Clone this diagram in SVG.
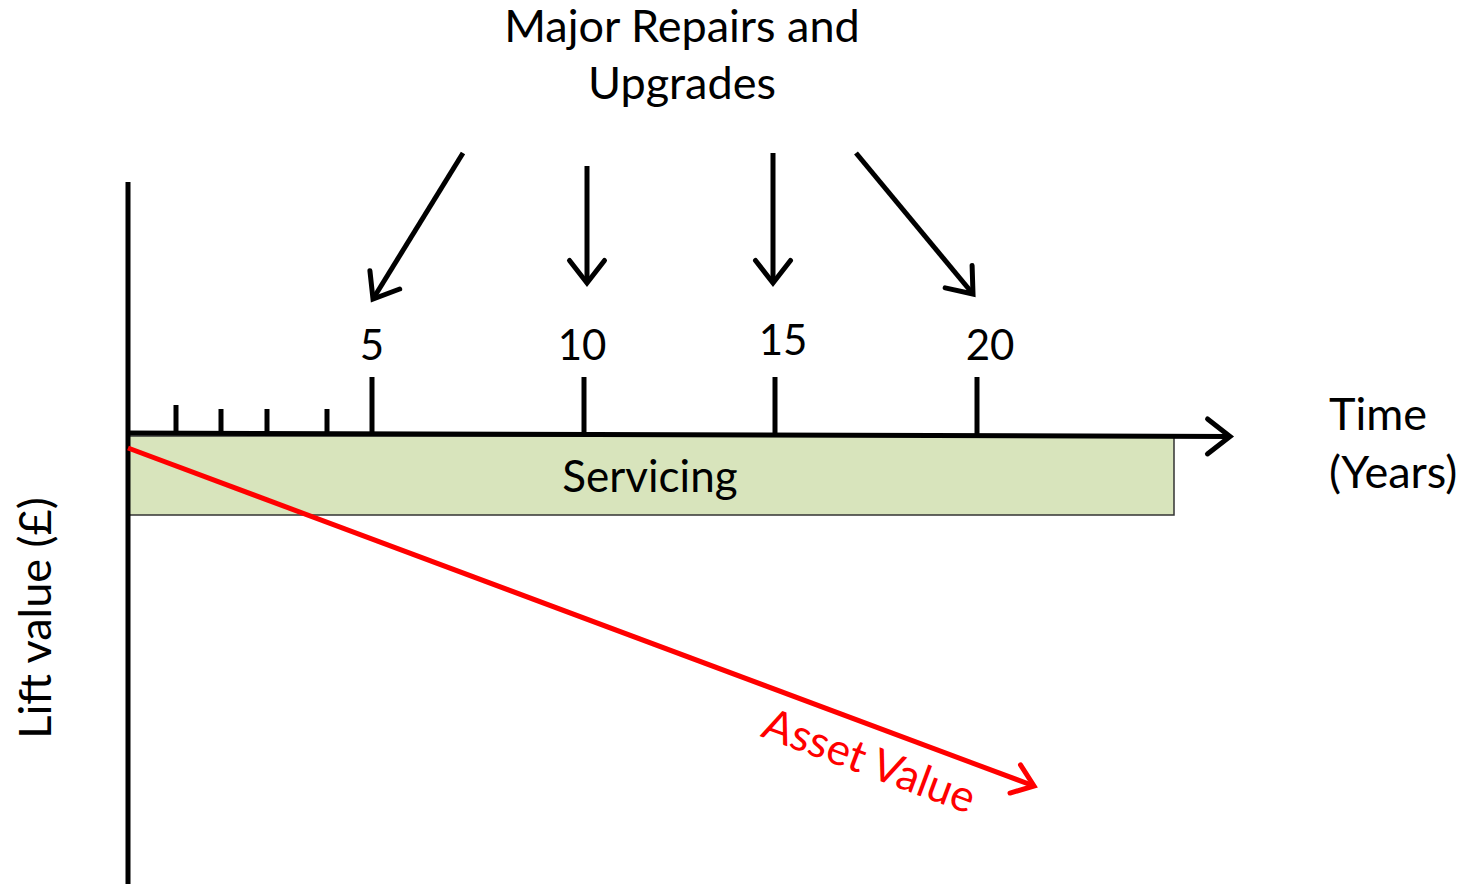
<svg xmlns="http://www.w3.org/2000/svg" width="1464" height="884" viewBox="0 0 1464 884">
  <style>
    text { font-family: "Lato", "Liberation Sans", sans-serif; font-size: 45px; fill: #000; }
    .num { font-size: 42px; }
    .axis { stroke: #000; stroke-width: 5; fill: none; }
    .tick { stroke: #000; stroke-width: 5; }
    .arrow { stroke: #000; stroke-width: 5; fill: none; marker-end: url(#head); }
    .red { stroke: #ff0000; stroke-width: 5; fill: none; marker-end: url(#headRed); }
  </style>
  <defs>
    <marker id="head" markerWidth="9" markerHeight="9" refX="5.5" refY="4.5" orient="auto" markerUnits="strokeWidth">
      <path d="M1,1 L5.5,4.5 L1,8" fill="none" stroke="#000" stroke-width="1" stroke-linecap="round"/>
    </marker>
    <marker id="headRed" markerWidth="8" markerHeight="8" refX="5" refY="4" orient="auto" markerUnits="strokeWidth">
      <path d="M1,1 L5,4 L1,7" fill="none" stroke="#ff0000" stroke-width="1" stroke-linecap="round"/>
    </marker>
  </defs>

  <!-- servicing band -->
  <g id="servicing">
    <rect x="127" y="436" width="1047" height="79" fill="#d8e4bc" stroke="#333" stroke-width="1.5"/>
    <text x="650" y="492" text-anchor="middle" style="font-size:44px">Servicing</text>
  </g>

  <!-- axes -->
  <g id="axes">
    <line class="axis" x1="128" y1="182" x2="128" y2="884"/>
    <line class="arrow" x1="126" y1="433" x2="1230" y2="436.5"/>
    <line class="tick" x1="176" y1="405" x2="176" y2="433"/>
    <line class="tick" x1="221" y1="409" x2="221" y2="433"/>
    <line class="tick" x1="267" y1="409" x2="267" y2="433"/>
    <line class="tick" x1="327" y1="409" x2="327" y2="433"/>
    <line class="tick" x1="372" y1="377" x2="372" y2="433"/>
    <line class="tick" x1="584" y1="377" x2="584" y2="434"/>
    <line class="tick" x1="775" y1="377" x2="775" y2="435"/>
    <line class="tick" x1="977" y1="377" x2="977" y2="436"/>
  </g>

  <g id="tick-labels">
    <text class="num" x="372" y="360" text-anchor="middle">5</text>
    <text class="num" x="582" y="360" text-anchor="middle">10</text>
    <text class="num" x="783" y="355" text-anchor="middle">15</text>
    <text class="num" x="990" y="360" text-anchor="middle">20</text>
  </g>

  <g id="title">
    <text x="682" y="42" text-anchor="middle">Major Repairs and</text>
    <text x="682" y="99" text-anchor="middle">Upgrades</text>
  </g>

  <g id="time-label">
    <text x="1329" y="430">Time</text>
    <text x="1329" y="488">(Years)</text>
  </g>

  <g id="value-label">
    <text transform="translate(51,618) rotate(-90)" text-anchor="middle">Lift value (£)</text>
  </g>

  <!-- connectors -->
  <g id="connectors">
    <line class="arrow" x1="463" y1="153" x2="373" y2="299"/>
    <line class="arrow" x1="587" y1="166" x2="587" y2="283"/>
    <line class="arrow" x1="773" y1="153" x2="773" y2="283"/>
    <line class="arrow" x1="856" y1="153" x2="973" y2="294"/>
    <line class="red" x1="128" y1="448" x2="1034" y2="786"/>
  </g>

  <g id="asset-value">
    <text transform="translate(864,775) rotate(20.45)" text-anchor="middle" style="fill:#ff0000;font-size:44px">Asset Value</text>
  </g>
</svg>
